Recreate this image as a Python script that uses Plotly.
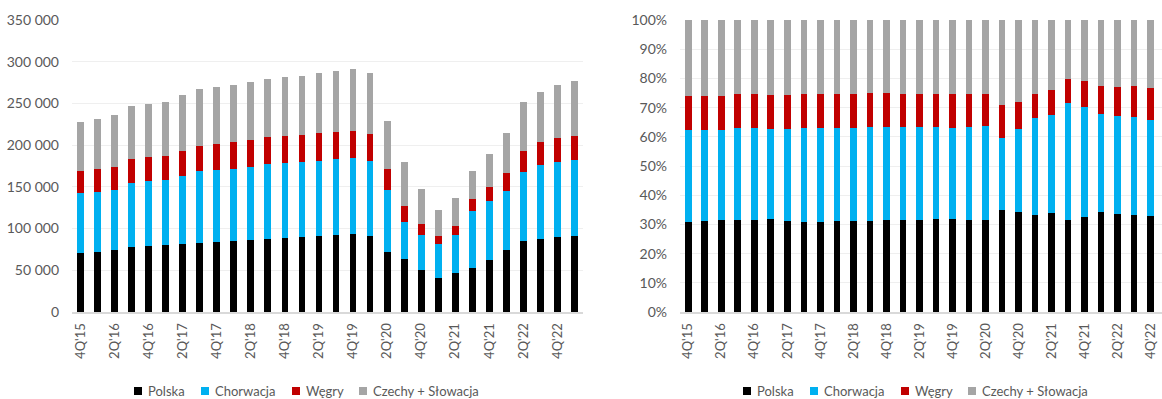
import plotly.graph_objects as go
from plotly.subplots import make_subplots

quarters = [
    "4Q'15", "1Q'16", "2Q'16", "3Q'16", "4Q'16", "1Q'17", "2Q'17", "3Q'17",
    "4Q'17", "1Q'18", "2Q'18", "3Q'18", "4Q'18", "1Q'19", "2Q'19", "3Q'19",
    "4Q'19", "1Q'20", "2Q'20", "3Q'20", "4Q'20", "1Q'21", "2Q'21", "3Q'21",
    "4Q'21", "1Q'22", "2Q'22", "3Q'22", "4Q'22", "1Q'23",
]

polska = [
    70200, 71900, 74300, 77500, 79100, 79900, 81100, 82300, 83500, 84700,
    85900, 87100, 88300, 89400, 90600, 91800, 93000, 90600, 71900, 63000,
    50700, 40300, 46300, 53100, 61900, 73800, 84600, 87000, 89400, 91100,
]
chorwacja = [
    72000, 72300, 72300, 77500, 78300, 77900, 81900, 86300, 86300, 86700,
    88300, 89900, 90300, 89900, 90800, 91600, 91100, 90800, 73900, 44400,
    41600, 40700, 45500, 68300, 71100, 71600, 83600, 89200, 89900, 90600,
]
wegry = [
    26800, 27200, 27600, 28700, 28800, 29600, 30400, 30800, 31100, 31900,
    31500, 32300, 32400, 32400, 32700, 32700, 33200, 32300, 25100, 20000,
    13500, 10100, 11600, 13600, 16800, 20700, 25100, 27100, 29600, 29600,
]
czechy_slowacja = [
    59100, 60300, 61500, 62800, 63500, 64700, 66700, 67500, 68800, 69200,
    70000, 70000, 70700, 71500, 72400, 73100, 74300, 72300, 58000, 52700,
    41600, 30700, 32800, 34400, 39900, 48800, 57900, 59900, 63200, 65900,
]

series_names = ["Polska", "Chorwacja", "Węgry", "Czechy + Słowacja"]
series_values = [polska, chorwacja, wegry, czechy_slowacja]
series_colors = ["#000000", "#00B0F0", "#C00000", "#A5A5A5"]

tick_labels = quarters[0:29:2]

totals = [sum(v) for v in zip(*series_values)]
shares = [[100.0 * v / t for v, t in zip(vals, totals)] for vals in series_values]

W, H = 1162, 399
FONT = "Lato"
TXT = "#595959"

fig = make_subplots(rows=1, cols=2)

for name, vals, pct, col in zip(series_names, series_values, shares, series_colors):
    fig.add_trace(go.Bar(x=quarters, y=vals, name=name, marker_color=col,
                         marker_line_width=0, showlegend=False), row=1, col=1)
    fig.add_trace(go.Bar(x=quarters, y=pct, name=name, marker_color=col,
                         marker_line_width=0, showlegend=False), row=1, col=2)

# plot area in pixels: top 20, bottom 312
top, bottom = 20, 312
fig.update_layout(
    width=W, height=H,
    margin=dict(l=0, r=0, t=top, b=H - bottom, autoexpand=False),
    barmode="stack", bargap=0.6,
    plot_bgcolor="white", paper_bgcolor="white",
    separators=", ",
    font=dict(family=FONT, color=TXT, size=13),
)


def px_x(x):
    return x / W


def px_y(y):
    return (bottom - y) / (bottom - top)


# compact legend under each chart: small square key + label
legend_starts = [134, 743]
item_offsets = [0, 67, 158, 225]
key_size, key_gap, legend_cy = 8, 4, 391
for start in legend_starts:
    for off, name, col in zip(item_offsets, series_names, series_colors):
        x0 = start + off
        fig.add_shape(type="rect", xref="paper", yref="paper",
                      x0=px_x(x0), x1=px_x(x0 + key_size),
                      y0=px_y(legend_cy + key_size / 2),
                      y1=px_y(legend_cy - key_size / 2),
                      fillcolor=col, line_width=0)
        fig.add_annotation(xref="paper", yref="paper",
                           x=px_x(x0 + key_size + key_gap), y=px_y(legend_cy),
                           xanchor="left", yanchor="middle", showarrow=False,
                           text=name, font=dict(size=13, color=TXT, family=FONT))

xcommon = dict(type="category", categoryorder="array", categoryarray=quarters,
               tickmode="array", tickvals=tick_labels, ticktext=tick_labels,
               tickangle=-90, showgrid=False, zeroline=False,
               showline=True, linecolor="#D9D9D9", linewidth=2,
               ticks="", ticklabelstandoff=4,
               tickfont=dict(size=13, color=TXT, family=FONT))

fig.update_xaxes(domain=[72 / W, 583 / W], range=[-0.5, 29.5], row=1, col=1, **xcommon)
fig.update_xaxes(domain=[680 / W, 1.0], range=[-0.5, 28.7], row=1, col=2, **xcommon)

ycommon = dict(showgrid=True, gridcolor="#EFEFEF", gridwidth=1, zeroline=False,
               showline=False, ticks="", ticklabelstandoff=12,
               tickfont=dict(size=14, color=TXT, family=FONT))

fig.update_yaxes(range=[0, 350000], dtick=50000, tickformat=",d",
                 row=1, col=1, **ycommon)
fig.update_yaxes(range=[0, 100], dtick=10, ticksuffix="%",
                 row=1, col=2, **ycommon)

fig.write_html("out.html")
